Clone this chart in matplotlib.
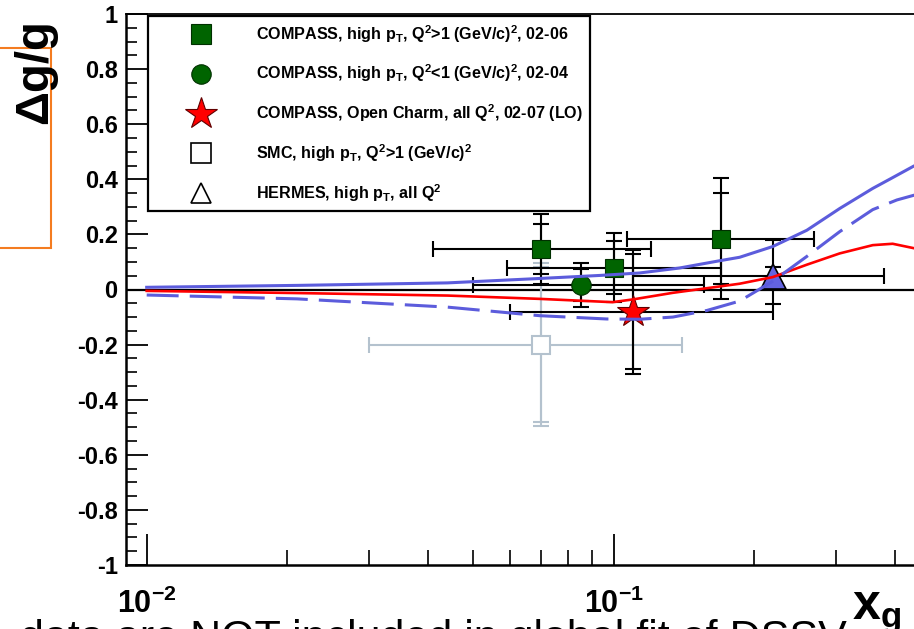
import numpy as np
import matplotlib
matplotlib.use("Agg")
import matplotlib.pyplot as plt
from matplotlib.lines import Line2D
from matplotlib.patches import Rectangle
from matplotlib.ticker import FixedLocator, NullFormatter

# ---------------------------------------------------------------------------
# Data
# ---------------------------------------------------------------------------
# COMPASS, high pT, Q2>1, 02-06
hi_x = [0.07, 0.10, 0.17]
hi_y = [0.147, 0.079, 0.185]
hi_stat = [0.091, 0.096, 0.165]
hi_tot = [0.127, 0.126, 0.218]
hi_xlo = [0.041, 0.059, 0.107]
hi_xhi = [0.12, 0.17, 0.269]

# COMPASS, high pT, Q2<1, 02-04
lo_x = [0.085]
lo_y = [0.016]
lo_stat = [0.058]
lo_tot = [0.079]
lo_xlo = [0.050]
lo_xhi = [0.156]

# COMPASS open charm, 02-07 (LO)
oc_x = [0.11]
oc_y = [-0.08]
oc_stat = [0.21]
oc_tot = [0.225]
oc_xlo = [0.060]
oc_xhi = [0.220]

# SMC high pT
smc_x = [0.07]
smc_y = [-0.20]
smc_stat = [0.28]
smc_tot = [0.297]
smc_xlo = [0.030]
smc_xhi = [0.14]

# HERMES high pT
her_x = [0.22]
her_y = [0.049]
her_stat = [0.034]
her_tot_lo = [0.10]
her_tot_hi = [0.13]
her_xlo = [0.11]
her_xhi = [0.38]

# curves
solid_x = [0.01, 0.0212, 0.0441, 0.0694, 0.0933, 0.1137, 0.1384, 0.1695, 0.1862,
           0.2192, 0.2593, 0.305, 0.359, 0.390, 0.4395, 0.46]
solid_y = [0.008, 0.015, 0.024, 0.040, 0.051, 0.060, 0.078, 0.105, 0.117,
           0.156, 0.215, 0.294, 0.367, 0.400, 0.448, 0.46]

red_x = [0.01, 0.0212, 0.0441, 0.0694, 0.0995, 0.110, 0.134, 0.1686, 0.1862,
         0.2192, 0.2593, 0.305, 0.359, 0.396, 0.4395, 0.46]
red_y = [-0.005, -0.013, -0.022, -0.034, -0.046, -0.036, -0.012, 0.011, 0.021,
         0.045, 0.090, 0.131, 0.161, 0.166, 0.150, 0.145]

dash_x = [0.01, 0.021, 0.0441, 0.0694, 0.0966, 0.1137, 0.134, 0.1585, 0.1862,
          0.2192, 0.2593, 0.305, 0.359, 0.4043, 0.4395, 0.46]
dash_y = [-0.020, -0.034, -0.064, -0.095, -0.107, -0.108, -0.100, -0.076, -0.042,
          0.030, 0.120, 0.210, 0.290, 0.325, 0.342, 0.35]

x_ticks = [0.01, 0.1, 1.0]
x_ticklabels = ["$10^{-2}$", "$10^{-1}$", "$1$"]
y_ticks = [-1, -0.8, -0.6, -0.4, -0.2, 0, 0.2, 0.4, 0.6, 0.8, 1]
y_ticklabels = ["-1", "-0.8", "-0.6", "-0.4", "-0.2", "0", "0.2", "0.4", "0.6", "0.8", "1"]

legend_labels = [
    "COMPASS, high p$_T$, Q$^2$>1 (GeV/c)$^2$, 02-06",
    "COMPASS, high p$_T$, Q$^2$<1 (GeV/c)$^2$, 02-04",
    "COMPASS, Open Charm, all Q$^2$, 02-07 (LO)",
    "SMC, high p$_T$, Q$^2$>1 (GeV/c)$^2$",
    "HERMES, high p$_T$, all Q$^2$",
]

# ---------------------------------------------------------------------------
# Style
# ---------------------------------------------------------------------------
plt.rcParams["font.family"] = ["Liberation Sans", "DejaVu Sans"]
plt.rcParams["mathtext.default"] = "regular"
plt.rcParams["lines.scale_dashes"] = False

GREEN = "#006400"
BLUE = "#5c5cdc"
RED = "#ff0000"
SMC_GREY = "#b4c2ce"
CAP = 5.5

W, H = 914, 629
fig = plt.figure(figsize=(W / 100, H / 100), dpi=100)
ax = fig.add_axes([126 / W, (H - 565) / H, 954.5 / W, 551 / H])
ax.set_xscale("log")
ax.set_xlim(0.00903, 1.0)
ax.set_ylim(-1, 1)


def draw_point(x, y, stat, tot, xlo, xhi, color, z):
    xerr = [np.array(x) - np.array(xlo), np.array(xhi) - np.array(x)]
    ax.errorbar(x, y, xerr=xerr, yerr=tot, fmt="none", ecolor=color,
                elinewidth=1.5, capsize=CAP, capthick=1.5, zorder=z)
    ax.errorbar(x, y, yerr=stat, fmt="none", ecolor=color,
                elinewidth=1.5, capsize=CAP, capthick=1.5, zorder=z)


ax.axhline(0, color="k", lw=1.6, zorder=1)

draw_point(smc_x, smc_y, smc_stat, smc_tot, smc_xlo, smc_xhi, SMC_GREY, 2)
ax.plot(smc_x, smc_y, "s", ms=13.5, mfc="white", mec=SMC_GREY, mew=1.5, zorder=3)

draw_point(hi_x, hi_y, hi_stat, hi_tot, hi_xlo, hi_xhi, "k", 4)
ax.plot(hi_x, hi_y, "s", ms=13.5, mfc=GREEN, mec="#003000", mew=0.8, zorder=5)

draw_point(lo_x, lo_y, lo_stat, lo_tot, lo_xlo, lo_xhi, "k", 4)
ax.plot(lo_x, lo_y, "o", ms=14, mfc=GREEN, mec="#003000", mew=0.8, zorder=5)

draw_point(oc_x, oc_y, oc_stat, oc_tot, oc_xlo, oc_xhi, "k", 4)
ax.plot(oc_x, oc_y, "*", ms=24, mfc=RED, mec="#600000", mew=0.8, zorder=5)

her_xerr = [np.array(her_x) - np.array(her_xlo), np.array(her_xhi) - np.array(her_x)]
ax.errorbar(her_x, her_y, xerr=her_xerr, yerr=[her_tot_lo, her_tot_hi], fmt="none",
            ecolor="k", elinewidth=1.5, capsize=CAP, capthick=1.5, zorder=4)
ax.errorbar(her_x, her_y, yerr=her_stat, fmt="none", ecolor="k",
            elinewidth=1.5, capsize=CAP, capthick=1.5, zorder=4)
ax.plot(her_x, her_y, "^", ms=18, mfc="#6464e0", mec="k", mew=1.2, zorder=5)

# curves on top of the markers
ax.plot(solid_x, solid_y, color=BLUE, lw=2.2, zorder=6)
ax.plot(red_x, red_y, color=RED, lw=1.9, zorder=6)
ax.plot(dash_x, dash_y, color=BLUE, lw=2.2, dashes=(23, 8), zorder=6)

# axes / ticks
for side in ["left", "bottom"]:
    ax.spines[side].set_linewidth(1.8)
ax.spines["top"].set_linewidth(1.3)
ax.spines["right"].set_visible(False)

ax.xaxis.set_major_locator(FixedLocator(x_ticks))
ax.set_xticklabels(x_ticklabels)
minor_x = [m * d for d in (0.01, 0.1) for m in range(2, 10)]
ax.xaxis.set_minor_locator(FixedLocator(minor_x))
ax.xaxis.set_minor_formatter(NullFormatter())
ax.tick_params(axis="x", which="major", direction="in", length=22, width=1.3,
               labelsize=22, pad=17, top=False)
ax.tick_params(axis="x", which="minor", direction="in", length=11, width=1.2, top=False)
for lab in ax.get_xticklabels():
    lab.set_fontweight("bold")

ax.yaxis.set_major_locator(FixedLocator(y_ticks))
ax.set_yticklabels(y_ticklabels)
ax.yaxis.set_minor_locator(FixedLocator(np.arange(-0.95, 1.0, 0.05)))
ax.tick_params(axis="y", which="major", direction="in", length=16, width=1.3,
               labelsize=17, pad=6, right=False)
ax.tick_params(axis="y", which="minor", direction="in", length=8, width=1.2, right=False)
for lab in ax.get_yticklabels():
    lab.set_fontweight("bold")

# legend with marker-only handles
handles = [
    Line2D([], [], ls="none", marker="s", ms=14, mfc=GREEN, mec="#003000", mew=0.8),
    Line2D([], [], ls="none", marker="o", ms=14, mfc=GREEN, mec="#003000", mew=0.8),
    Line2D([], [], ls="none", marker="*", ms=24, mfc=RED, mec="#600000", mew=0.8),
    Line2D([], [], ls="none", marker="s", ms=14, mfc="white", mec="k", mew=1.2),
    Line2D([], [], ls="none", marker="^", ms=15, mfc="white", mec="k", mew=1.2),
]
leg = ax.legend(handles, legend_labels, loc="upper left",
                bbox_to_anchor=(22 / 954.5, 1 - 1.7 / 551), borderaxespad=0,
                numpoints=1, handlelength=5.7, handletextpad=0.56, borderpad=0.45,
                labelspacing=1.12, fancybox=False, framealpha=1,
                prop={"size": 11.6, "weight": "bold"})
leg.get_frame().set_edgecolor("k")
leg.get_frame().set_linewidth(1.6)
leg.set_zorder(10)

# labels outside the axes
fig.text(35 / W, 1 - 72 / H, "\u0394g/g", rotation=90, ha="center", va="center",
         fontsize=34, fontweight="bold")
fig.text(852 / W, 1 - 620 / H, "x$_g$", ha="left", va="baseline",
         fontsize=36, fontweight="bold")
fig.text(20 / W, 1 - 650 / H, "data are NOT included in global fit of DSSV",
         ha="left", va="baseline", fontsize=31)

fig.add_artist(Rectangle((-5 / W, (H - 248) / H), 56 / W, 200 / H,
                         transform=fig.transFigure, fill=False,
                         edgecolor="#f47c20", lw=1.5))

fig.savefig("out.png", dpi=100)
